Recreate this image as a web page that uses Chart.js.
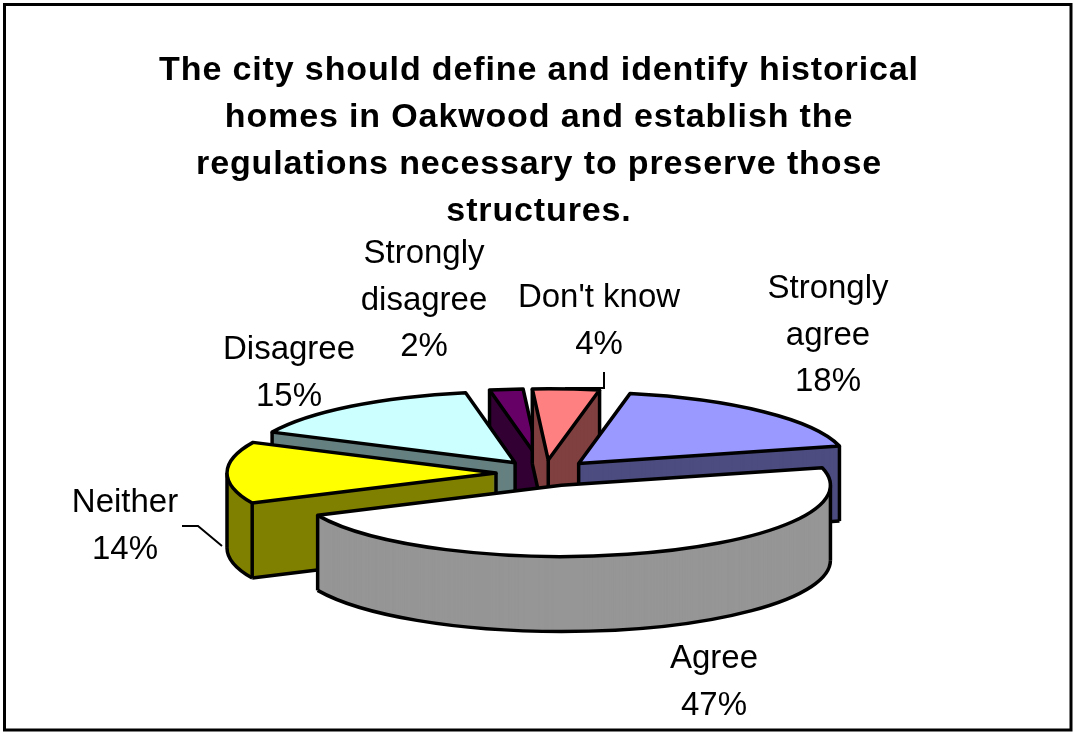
<!DOCTYPE html>
<html>
<head>
  <title>Oakwood survey</title>
  <script src="https://cdn.jsdelivr.net/npm/chart.js"></script>
  <style>
    html, body { margin: 0; padding: 0; background: #fff; }
    canvas { display: block; }
  </style>
</head>
<body>
  <canvas id="pie" width="1078" height="738"></canvas>

  <script>
    const titleLines = [
      'The city should define and identify historical',
      'homes in Oakwood and establish the',
      'regulations necessary to preserve those',
      'structures.'
    ];
    const categories = ['Strongly agree', 'Agree', 'Neither', 'Disagree', 'Strongly disagree', "Don't know"];
    const percents = [18, 47, 14, 15, 2, 4];
    const topColors = ['#9999ff', '#ffffff', '#ffff00', '#ccffff', '#660066', '#ff8080'];
    const sideColors = ['#4d4d80', '#969696', '#808000', '#668080', '#330033', '#804040'];

    // label lines, centre x and y of first line
    const labelLines = [['Strongly', 'agree'], ['Agree'], ['Neither'], ['Disagree'], ['Strongly', 'disagree'], ["Don't know"]];
    const labelSpots = [[828, 289], [714, 659], [125, 503], [289, 350], [424, 254], [599, 298]];
    const leaders = [
      [[182, 526], [198, 526], [222, 546]],
      [[565, 388], [604, 388], [604, 372]]
    ];

    // fake 3d: squashed pie, back slices painted first
    const CX = 545, CY = 473, RADIUS = 269, SQUASH = 0.265, DEPTH = 75, EXPLODE = 49;
    const paintOrder = [4, 5, 3, 0, 2, 1];
    const LINE = 3.5;

    function place(ctx, arc, dy) {
      const mid = (arc.startAngle + arc.endAngle) / 2;
      ctx.translate(CX, CY + dy);
      ctx.scale(1, SQUASH);
      ctx.translate(Math.cos(mid) * EXPLODE - arc.x, Math.sin(mid) * EXPLODE - arc.y);
    }

    // point on the slice in page pixels
    function pt(arc, angle, r) {
      const mid = (arc.startAngle + arc.endAngle) / 2;
      return [
        CX + (Math.cos(mid) * EXPLODE + Math.cos(angle) * r),
        CY + (Math.sin(mid) * EXPLODE + Math.sin(angle) * r) * SQUASH
      ];
    }

    function fillSlice(ctx, arc, dy, color) {
      const stub = Object.create(arc);
      stub.options = Object.assign({}, arc.options, { backgroundColor: color, borderWidth: 0 });
      ctx.save();
      place(ctx, arc, dy);
      stub.draw(ctx);
      ctx.restore();
    }

    function strokeEdges(ctx, arc, dy, from, to, withRadii) {
      ctx.save();
      place(ctx, arc, dy);
      ctx.beginPath();
      if (withRadii) ctx.moveTo(arc.x, arc.y);
      ctx.arc(arc.x, arc.y, arc.outerRadius, from, to);
      if (withRadii) ctx.closePath();
      ctx.restore();
      ctx.stroke();
    }

    function line(ctx, a, b) {
      ctx.beginPath();
      ctx.moveTo(a[0], a[1]);
      ctx.lineTo(b[0], b[1]);
      ctx.stroke();
    }

    function drawSlice(ctx, arc, i) {
      const s = arc.startAngle, e = arc.endAngle;
      for (let dy = DEPTH; dy > 0; dy -= 0.5) fillSlice(ctx, arc, dy, sideColors[i]);

      const startWall = Math.cos(s) < 0, endWall = Math.cos(e) > 0;
      const startRim = Math.sin(s) > 0, endRim = Math.sin(e) > 0;
      const apex = pt(arc, 0, 0), a = pt(arc, s, arc.outerRadius), b = pt(arc, e, arc.outerRadius);
      const down = p => [p[0], p[1] + DEPTH];

      // lower rim, only where it faces the viewer
      const from = Math.max(s, 0), to = Math.min(e, Math.PI);
      if (to > from) strokeEdges(ctx, arc, DEPTH, from, to, false);
      if (startWall) line(ctx, down(apex), down(a));
      if (endWall) line(ctx, down(apex), down(b));

      if (startWall || endWall) line(ctx, apex, down(apex));
      if (startWall || startRim) line(ctx, a, down(a));
      if (endWall || endRim) line(ctx, b, down(b));
      [0, Math.PI].forEach(ang => {
        if (s < ang && e > ang) {
          const p = pt(arc, ang, arc.outerRadius);
          line(ctx, p, down(p));
        }
      });

      fillSlice(ctx, arc, 0, topColors[i]);
      strokeEdges(ctx, arc, 0, s, e, true);
    }

    const pie3d = {
      id: 'pie3d',
      beforeDraw(chart) {
        const ctx = chart.ctx;
        ctx.save();
        ctx.fillStyle = '#fff';
        ctx.fillRect(0, 0, chart.width, chart.height);
        ctx.strokeStyle = '#000';
        ctx.lineWidth = 3;
        ctx.strokeRect(4.5, 4.5, 1066.5, 725.5);
        ctx.restore();
        ctx.letterSpacing = '0.87px'; // title is spaced out in the original
      },
      beforeDatasetsDraw(chart) {
        const ctx = chart.ctx;
        const arcs = chart.getDatasetMeta(0).data;
        ctx.save();
        ctx.strokeStyle = '#000';
        ctx.lineWidth = LINE;
        ctx.lineJoin = 'round';
        paintOrder.forEach(i => drawSlice(ctx, arcs[i], i));
        ctx.restore();
        return false;
      },
      afterDraw(chart) {
        const ctx = chart.ctx;
        ctx.save();
        ctx.letterSpacing = '0px';
        ctx.fillStyle = '#000';
        ctx.font = '33px "Liberation Sans", Arial, sans-serif';
        ctx.textAlign = 'center';
        ctx.textBaseline = 'middle';
        categories.forEach((c, i) => {
          const lines = labelLines[i].concat(percents[i] + '%');
          lines.forEach((t, j) => ctx.fillText(t, labelSpots[i][0], labelSpots[i][1] + j * 46.5));
        });
        ctx.strokeStyle = '#000';
        ctx.lineWidth = 2;
        leaders.forEach(l => {
          ctx.beginPath();
          l.forEach((p, j) => j ? ctx.lineTo(p[0], p[1]) : ctx.moveTo(p[0], p[1]));
          ctx.stroke();
        });
        ctx.restore();
      }
    };

    new Chart(document.getElementById('pie'), {
      type: 'pie',
      data: {
        labels: categories,
        datasets: [{ data: percents, backgroundColor: topColors, borderWidth: 0 }]
      },
      options: {
        responsive: false,
        animation: false,
        devicePixelRatio: 1,
        rotation: 11,
        radius: RADIUS,
        events: [],
        plugins: {
          legend: { display: false },
          tooltip: { enabled: false },
          title: {
            display: true,
            text: titleLines,
            color: '#000',
            font: { family: '"Liberation Sans", Arial, sans-serif', size: 34, weight: 'bold', lineHeight: 1.38 },
            padding: { top: 47, bottom: 0 }
          }
        }
      },
      plugins: [pie3d]
    });
  </script>
</body>
</html>
